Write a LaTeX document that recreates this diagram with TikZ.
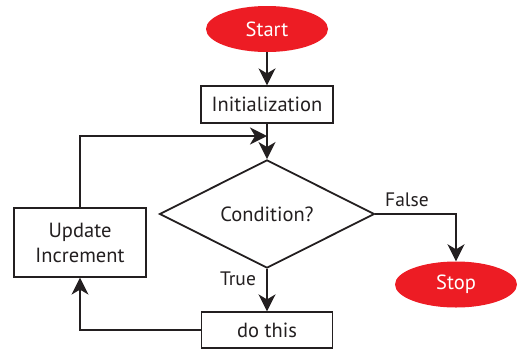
\documentclass[tikz,border=0pt]{standalone}
\usepackage{fontspec}
\setmainfont{PT Sans}
\usetikzlibrary{shapes.geometric,arrows.meta}
\definecolor{flowred}{HTML}{ED1C24}
\definecolor{ink}{HTML}{231F20}
\begin{document}
\begin{tikzpicture}[x=1pt,y=-1pt,
  every node/.style={font=\fontsize{20.5}{24}\selectfont, text=ink},
  terminal/.style={ellipse, fill=flowred, text=white, minimum width=122, minimum height=46, inner sep=0},
  stepbox/.style={rectangle, draw=ink, line width=1.2pt, fill=white, inner sep=0, align=center},
  decision/.style={diamond, draw=ink, line width=1.8pt, inner sep=0, minimum width=215, minimum height=98},
  arr/.style={draw=ink, line width=1.8pt, -{Stealth[length=17pt, width=17pt, inset=5pt]}},
  lbl/.style={font=\fontsize{19.5}{23}\selectfont}]
  \useasboundingbox (0,0) rectangle (517,349);

  \node[terminal] (start) at (267,29) {Start};
  \node[stepbox, minimum width=132, minimum height=37] (init) at (267,104.5) {Initialization};
  \node[decision] (cond) at (267,214) {Condition?};
  \node[terminal] (stop) at (456,284.5) {Stop};
  \node[stepbox, minimum width=132, minimum height=69] (update) at (80,242.5) {Update\\[1pt]Increment};
  \node[stepbox, minimum width=131, minimum height=36] (dothis) at (267,330) {do this};
  \coordinate (join) at (267,136);

  \draw[arr] (start) -- (init);
  \draw[arr] (init) -- (cond);
  \draw[arr] (update.north) |- (join);
  \draw[arr] (cond.east) -| (stop.north);
  \draw[arr] (cond.south) -- (dothis.north);
  \draw[arr] (dothis.west) -| (update.south);

  \node[lbl] (flabel) at (407,200) {False};
  \node[lbl] (tlabel) at (238,279) {True};
\end{tikzpicture}
\end{document}
